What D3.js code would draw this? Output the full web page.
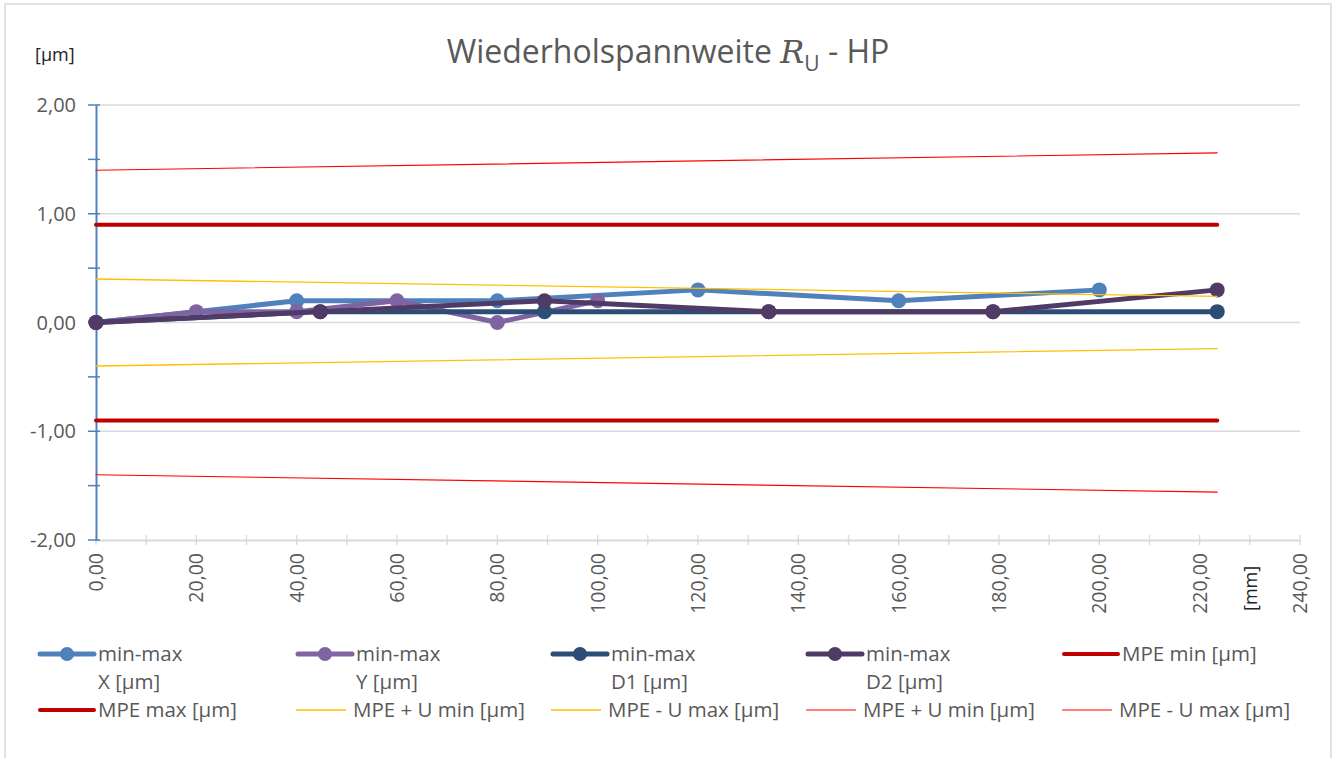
<!DOCTYPE html>
<html><head><meta charset="utf-8">
<script src="https://cdn.jsdelivr.net/npm/d3@7"></script>
<style>
html,body{margin:0;padding:0;background:#fff;}
svg{display:block;}
text{font-family:"Open Sans","Noto Sans",sans-serif;}
</style></head>
<body><svg id="c" width="1334" height="758"></svg>
<script>
// ---- data ----
const xX = [0, 40, 80, 120, 160, 200];
const yX = [0, 0.2, 0.2, 0.3, 0.2, 0.3];
const xY = [0, 20, 40, 60, 80, 100];
const yY = [0, 0.1, 0.1, 0.2, 0, 0.2];
const xD = [0, 44.7, 89.4, 134.1, 178.8, 223.5];
const yD1 = [0, 0.1, 0.1, 0.1, 0.1, 0.1];
const yD2 = [0, 0.1, 0.2, 0.1, 0.1, 0.3];
const xLim = [0, 223.5];
const mpeMin = [0.9, 0.9];
const mpeMax = [-0.9, -0.9];
const mpeUminY = [0.4, 0.24];
const mpeUmaxY = [-0.4, -0.24];
const mpeUminR = [1.4, 1.56];
const mpeUmaxR = [-1.4, -1.56];
const yTicks = [-2, -1, 0, 1, 2];
const xTicks = [0, 20, 40, 60, 80, 100, 120, 140, 160, 180, 200, 220, 240];

const fmt = v => d3.format(".2f")(v).replace(".", ",").replace("−","-");

const series = [
  {name:["min-max","X [µm]"], xs:xX, ys:yX, color:"#4f81bd", w:5, marker:true},
  {name:["min-max","Y [µm]"], xs:xY, ys:yY, color:"#8064a2", w:5, marker:true},
  {name:["min-max","D1 [µm]"], xs:xD, ys:yD1, color:"#2c4d75", w:5, marker:true},
  {name:["min-max","D2 [µm]"], xs:xD, ys:yD2, color:"#4f3b65", w:5, marker:true},
  {name:["MPE min [µm]"], xs:xLim, ys:mpeMin, color:"#c00000", w:4, marker:false},
  {name:["MPE max [µm]"], xs:xLim, ys:mpeMax, color:"#c00000", w:4, marker:false},
  {name:["MPE + U min [µm]"], xs:xLim, ys:mpeUminY, color:"#ffc000", w:1.3, marker:false},
  {name:["MPE - U max [µm]"], xs:xLim, ys:mpeUmaxY, color:"#ffc000", w:1.3, marker:false},
  {name:["MPE + U min [µm]"], xs:xLim, ys:mpeUminR, color:"#ff0000", w:1.1, marker:false},
  {name:["MPE - U max [µm]"], xs:xLim, ys:mpeUmaxR, color:"#ff0000", w:1.1, marker:false}
];

const svg = d3.select("#c");
// chart border
svg.append("rect").attr("x",5).attr("y",4).attr("width",1326).attr("height",780)
  .attr("fill","#fff").attr("stroke","#d9d9d9").attr("stroke-width",1.5);

const x = d3.scaleLinear().domain([0,240]).range([96,1300]);
const y = d3.scaleLinear().domain([-2,2]).range([540,105]);

// gridlines
svg.append("g").selectAll("line").data(yTicks.filter(d=>d>-2)).join("line")
  .attr("x1",x(0)).attr("x2",x(240)).attr("y1",d=>y(d)).attr("y2",d=>y(d))
  .attr("stroke","#d9d9d9").attr("stroke-width",1.3);

// x axis
const xa = svg.append("g").attr("transform",`translate(0,${y(-2)})`)
  .call(d3.axisBottom(x).tickValues(d3.range(0,241,10)).tickSize(0).tickFormat(""));
xa.select(".domain").attr("stroke","#d9d9d9").attr("stroke-width",2);
svg.append("g").selectAll("line").data(d3.range(0,241,10)).join("line")
  .attr("x1",d=>x(d)).attr("x2",d=>x(d)).attr("y1",y(-2)-5).attr("y2",y(-2)+5)
  .attr("stroke","#d9d9d9").attr("stroke-width",1.3);
svg.append("g").selectAll("text").data(xTicks).join("text")
  .attr("transform",d=>`translate(${x(d)+7},553) rotate(-90)`)
  .attr("text-anchor","end").attr("fill","#595959").attr("font-size",19.5)
  .text(d=>fmt(d));

// y axis
const ya = svg.append("g").attr("transform",`translate(${x(0)},0)`)
  .call(d3.axisLeft(y).tickValues(yTicks).tickSize(0).tickFormat(""));
ya.select(".domain").attr("stroke","#4f81bd").attr("stroke-width",2);
svg.append("g").selectAll("line").data(d3.range(-2,2.01,0.5)).join("line")
  .attr("x1",x(0)-8).attr("x2",x(0)+4).attr("y1",d=>y(d)).attr("y2",d=>y(d))
  .attr("stroke","#4f81bd").attr("stroke-width",1.5);
svg.append("g").selectAll("text").data(yTicks).join("text")
  .attr("x",76).attr("y",d=>y(d)+7).attr("text-anchor","end")
  .attr("fill","#595959").attr("font-size",20).text(d=>fmt(d));

// axis unit labels
svg.append("text").attr("x",35).attr("y",61).attr("font-size",18).attr("fill","#222").text("[µm]");
svg.append("text").attr("transform","translate(1257,611) rotate(-90)").attr("font-size",18)
  .attr("fill","#222").text("[mm]");

// title
const t = svg.append("text").attr("x",668).attr("y",63).attr("text-anchor","middle")
  .attr("font-size",32).attr("fill","#595959");
t.append("tspan").text("Wiederholspannweite ");
t.append("tspan").attr("font-family","DejaVu Serif, Liberation Serif, serif").attr("font-style","italic").text("R");
t.append("tspan").attr("font-size",21).attr("dy",8).text("U");
t.append("tspan").attr("dy",-8).text(" - HP");

// series
const line = d3.line().x(d=>x(d[0])).y(d=>y(d[1]));
series.forEach(s=>{
  const pts = s.xs.map((v,i)=>[v,s.ys[i]]);
  svg.append("path").attr("d",line(pts)).attr("fill","none")
    .attr("stroke",s.color).attr("stroke-width",s.w).attr("stroke-linejoin","round").attr("stroke-linecap","round");
  if(s.marker){
    svg.append("g").selectAll("circle").data(pts).join("circle")
      .attr("cx",d=>x(d[0])).attr("cy",d=>y(d[1])).attr("r",7.5).attr("fill",s.color);
  }
});

// legend
const colX = [38, 296, 551, 806, 1062];
const rowY = [654, 710];
series.forEach((s,i)=>{
  const col = i%5, row = Math.floor(i/5);
  const x0 = colX[col], y0 = rowY[row];
  const g = svg.append("g");
  const thin = s.w < 2;
  const len = thin ? 50 : 56;
  g.append("line").attr("x1",x0+(thin?0:2)).attr("x2",x0+len).attr("y1",y0).attr("y2",y0)
    .attr("stroke",s.color).attr("stroke-width",s.w).attr("stroke-linecap",thin?"butt":"round");
  if(s.marker) g.append("circle").attr("cx",x0+29).attr("cy",y0).attr("r",7).attr("fill",s.color);
  const tx = x0 + (thin ? 57 : 60);
  s.name.forEach((n,k)=>{
    g.append("text").attr("x",tx).attr("y",y0+7+k*28).attr("font-size",20.5).attr("fill","#595959").text(n);
  });
});
</script></body></html>
